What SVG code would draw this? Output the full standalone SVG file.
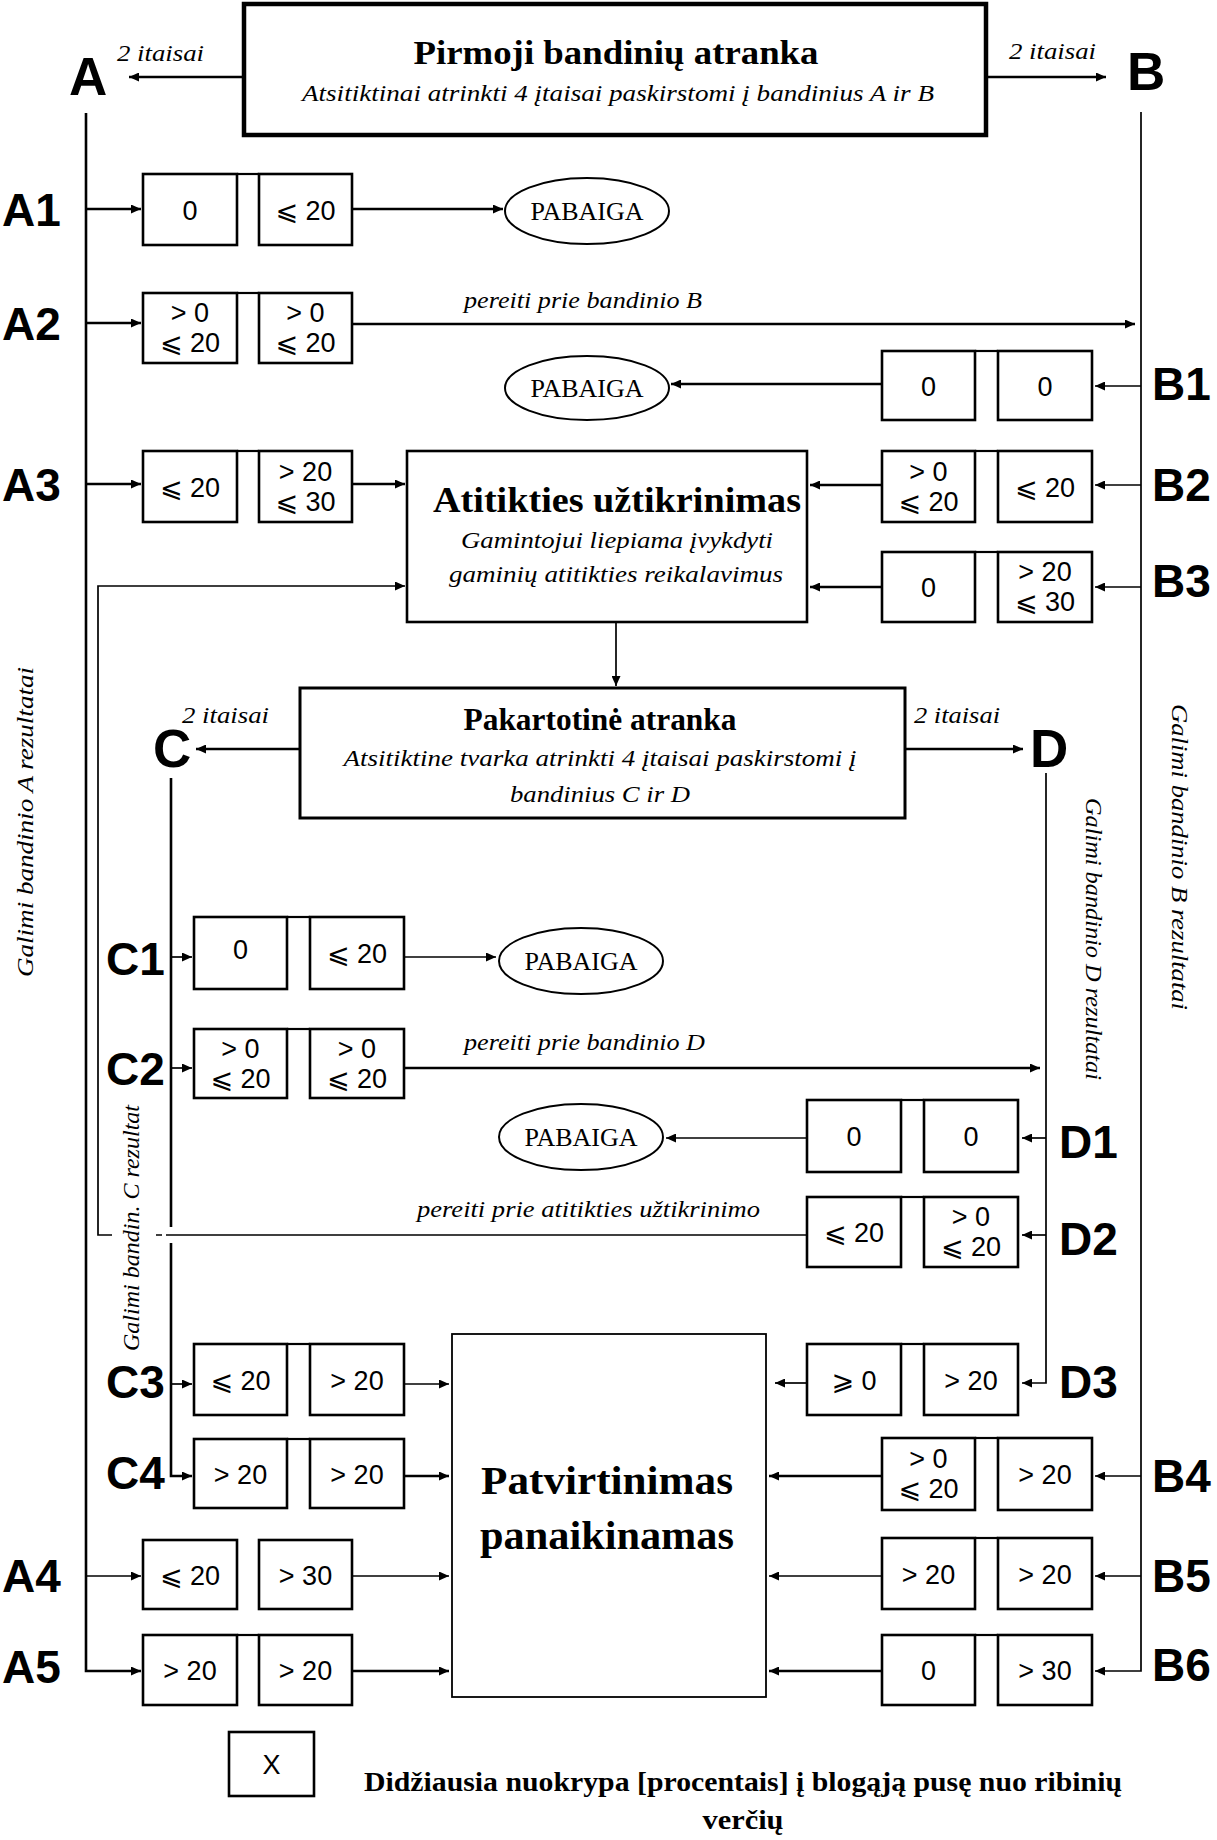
<svg xmlns="http://www.w3.org/2000/svg" width="1217" height="1840" viewBox="0 0 1217 1840">
<style>
.ln{stroke:#000;stroke-width:2.6;fill:none}
.tn{stroke:#000;stroke-width:1.7;fill:none}
.bx rect{fill:#fff;stroke:#000;stroke-width:2.6}
.bx path{stroke:#000;stroke-width:2.2;fill:none}
.bx text{font-family:"Liberation Sans","DejaVu Sans",Arial,sans-serif;font-size:27px;text-anchor:middle}
.lbl{font-family:"Liberation Sans",Arial,sans-serif;font-weight:bold;font-size:46px}
.big{font-family:"Liberation Sans",Arial,sans-serif;font-weight:bold;font-size:53px}
.it{font-family:"Liberation Serif","Times New Roman",serif;font-style:italic;font-size:24px}
.ttl{font-family:"Liberation Serif","Times New Roman",serif;font-weight:bold;text-anchor:middle}
.ctr{text-anchor:middle}
.el ellipse{fill:#fff;stroke:#000;stroke-width:2}
.el text{font-family:"Liberation Serif","Times New Roman",serif;font-size:26px;text-anchor:middle}
</style>
<defs>
<marker id="ah" markerUnits="userSpaceOnUse" markerWidth="10" markerHeight="9" refX="10" refY="4.5" orient="auto"><path d="M0,0L10,4.5L0,9z" fill="#000"/></marker>
</defs>
<rect width="1217" height="1840" fill="#fff"/>

<!-- main process boxes -->
<g id="pirmoji">
<rect x="244" y="4" width="742" height="131" fill="#fff" stroke="#000" stroke-width="4.5"/>
<text class="ttl" x="616" y="64" font-size="33" textLength="405" lengthAdjust="spacingAndGlyphs">Pirmoji bandinių atranka</text>
<text class="it ctr" x="618" y="101" textLength="632" lengthAdjust="spacingAndGlyphs">Atsitiktinai atrinkti 4 įtaisai paskirstomi į bandinius A ir B</text>
</g>
<g id="atitiktis">
<rect x="407" y="451" width="400" height="171" fill="#fff" stroke="#000" stroke-width="2.6"/>
<text class="ttl" x="617" y="512" font-size="36" textLength="368" lengthAdjust="spacingAndGlyphs">Atitikties užtikrinimas</text>
<text class="it ctr" x="617" y="548" font-size="25" textLength="312" lengthAdjust="spacingAndGlyphs">Gamintojui liepiama įvykdyti</text>
<text class="it ctr" x="616" y="582" font-size="25" textLength="334" lengthAdjust="spacingAndGlyphs">gaminių atitikties reikalavimus</text>
</g>
<g id="pakartotine">
<rect x="300" y="688" width="605" height="130" fill="#fff" stroke="#000" stroke-width="3"/>
<text class="ttl" x="600" y="730" font-size="31" textLength="273" lengthAdjust="spacingAndGlyphs">Pakartotinė atranka</text>
<text class="it ctr" x="600" y="766" textLength="513" lengthAdjust="spacingAndGlyphs">Atsitiktine tvarka atrinkti 4 įtaisai paskirstomi į</text>
<text class="it ctr" x="600" y="802" textLength="180" lengthAdjust="spacingAndGlyphs">bandinius C ir D</text>
</g>
<g id="patvirtinimas">
<rect x="452" y="1334" width="314" height="363" fill="#fff" stroke="#000" stroke-width="1.8"/>
<text class="ttl" x="607" y="1494" font-size="40" textLength="252" lengthAdjust="spacingAndGlyphs">Patvirtinimas</text>
<text class="ttl" x="607" y="1549" font-size="40" textLength="254" lengthAdjust="spacingAndGlyphs">panaikinamas</text>
</g>

<!-- end ellipses -->
<g id="pabaiga1" class="el"><ellipse cx="587" cy="211" rx="82" ry="33"/><text x="587" y="220">PABAIGA</text></g>
<g id="pabaiga2" class="el"><ellipse cx="587" cy="388" rx="82" ry="32"/><text x="587" y="397">PABAIGA</text></g>
<g id="pabaiga3" class="el"><ellipse cx="581" cy="961" rx="82" ry="33"/><text x="581" y="970">PABAIGA</text></g>
<g id="pabaiga4" class="el"><ellipse cx="581" cy="1137" rx="82" ry="33"/><text x="581" y="1146">PABAIGA</text></g>

<!-- connectors -->
<g id="connectors">
<path class="ln" d="M244,77H129" marker-end="url(#ah)"/>
<path class="ln" d="M986,77H1106" marker-end="url(#ah)"/>
<path class="ln" d="M86,113V1671H141" marker-end="url(#ah)"/>
<path class="ln" d="M86,209H141" marker-end="url(#ah)"/>
<path class="ln" d="M86,323H141" marker-end="url(#ah)"/>
<path class="ln" d="M86,484H141" marker-end="url(#ah)"/>
<path class="tn" d="M86,1576H141" marker-end="url(#ah)"/>
<path class="tn" d="M1141,112V1671H1095" marker-end="url(#ah)"/>
<path class="tn" d="M1141,386H1095" marker-end="url(#ah)"/>
<path class="tn" d="M1141,485H1095" marker-end="url(#ah)"/>
<path class="tn" d="M1141,587H1095" marker-end="url(#ah)"/>
<path class="tn" d="M1141,1476H1095" marker-end="url(#ah)"/>
<path class="tn" d="M1141,1576H1095" marker-end="url(#ah)"/>
<path class="ln" d="M352,209H503" marker-end="url(#ah)"/>
<path class="ln" d="M352,324H1135" marker-end="url(#ah)"/>
<path class="ln" d="M352,484H405" marker-end="url(#ah)"/>
<path class="tn" d="M352,1576H449" marker-end="url(#ah)"/>
<path class="ln" d="M352,1671H449" marker-end="url(#ah)"/>
<path class="ln" d="M882,384H671" marker-end="url(#ah)"/>
<path class="ln" d="M882,485H810" marker-end="url(#ah)"/>
<path class="ln" d="M882,587H810" marker-end="url(#ah)"/>
<path class="ln" d="M882,1476H769" marker-end="url(#ah)"/>
<path class="tn" d="M882,1576H769" marker-end="url(#ah)"/>
<path class="ln" d="M882,1671H769" marker-end="url(#ah)"/>
<path class="tn" d="M616,622V686" marker-end="url(#ah)"/>
<path class="ln" d="M300,749H196" marker-end="url(#ah)"/>
<path class="ln" d="M906,749H1023" marker-end="url(#ah)"/>
<path class="ln" d="M171,778V1227M171,1243V1476H192" marker-end="url(#ah)"/>
<path class="tn" d="M171,957H192" marker-end="url(#ah)"/>
<path class="tn" d="M171,1068H192" marker-end="url(#ah)"/>
<path class="tn" d="M171,1384H192" marker-end="url(#ah)"/>
<path class="tn" d="M404,957H496" marker-end="url(#ah)"/>
<path class="ln" d="M404,1068H1040" marker-end="url(#ah)"/>
<path class="tn" d="M404,1384H449" marker-end="url(#ah)"/>
<path class="ln" d="M404,1476H449" marker-end="url(#ah)"/>
<path class="tn" d="M1046,773V1383H1022" marker-end="url(#ah)"/>
<path class="tn" d="M1046,1138H1022" marker-end="url(#ah)"/>
<path class="tn" d="M1046,1235H1022" marker-end="url(#ah)"/>
<path class="tn" d="M807,1138H666" marker-end="url(#ah)"/>
<path class="tn" d="M807,1383H775" marker-end="url(#ah)"/>
<path class="tn" d="M807,1235H166M162,1235H156M112,1235H98V586H405" marker-end="url(#ah)"/>
</g>

<!-- side letters and row labels -->
<g id="letters">
<text class="big" x="69" y="95">A</text>
<text class="big" x="1127" y="90">B</text>
<text class="big" x="153" y="767">C</text>
<text class="big" x="1030" y="767">D</text>
<text class="it" x="117" y="61" textLength="87" lengthAdjust="spacingAndGlyphs">2 itaisai</text>
<text class="it" x="1009" y="59" textLength="87" lengthAdjust="spacingAndGlyphs">2 itaisai</text>
<text class="it" x="182" y="723" textLength="87" lengthAdjust="spacingAndGlyphs">2 itaisai</text>
<text class="it" x="914" y="723" textLength="86" lengthAdjust="spacingAndGlyphs">2 itaisai</text>
<text class="it" x="464" y="308" textLength="238" lengthAdjust="spacingAndGlyphs">pereiti prie bandinio B</text>
<text class="it" x="464" y="1050" textLength="241" lengthAdjust="spacingAndGlyphs">pereiti prie bandinio D</text>
<text class="it" x="417" y="1217" textLength="343" lengthAdjust="spacingAndGlyphs">pereiti prie atitikties užtikrinimo</text>
<text class="it ctr" transform="translate(33,822) rotate(-90)" font-size="25" textLength="310" lengthAdjust="spacingAndGlyphs">Galimi bandinio A rezultatai</text>
<text class="it ctr" transform="translate(139,1228) rotate(-90)" textLength="246" lengthAdjust="spacingAndGlyphs">Galimi bandin. C rezultat</text>
<text class="it ctr" transform="translate(1086,939) rotate(90)" textLength="282" lengthAdjust="spacingAndGlyphs">Galimi bandinio D rezultatai</text>
<text class="it ctr" transform="translate(1172,857) rotate(90)" font-size="25" textLength="306" lengthAdjust="spacingAndGlyphs">Galimi bandinio B rezultatai</text>
<text class="lbl" x="2" y="226">A1</text>
<text class="lbl" x="2" y="340">A2</text>
<text class="lbl" x="2" y="501">A3</text>
<text class="lbl" x="2" y="1592">A4</text>
<text class="lbl" x="2" y="1683">A5</text>
<text class="lbl" x="1152" y="400">B1</text>
<text class="lbl" x="1152" y="501">B2</text>
<text class="lbl" x="1152" y="597">B3</text>
<text class="lbl" x="1152" y="1492">B4</text>
<text class="lbl" x="1152" y="1592">B5</text>
<text class="lbl" x="1152" y="1681">B6</text>
<text class="lbl" x="106" y="975">C1</text>
<text class="lbl" x="106" y="1085">C2</text>
<text class="lbl" x="106" y="1398">C3</text>
<text class="lbl" x="106" y="1489">C4</text>
<text class="lbl" x="1059" y="1158">D1</text>
<text class="lbl" x="1059" y="1255">D2</text>
<text class="lbl" x="1059" y="1398">D3</text>
</g>

<!-- result box pairs -->
<g id="A1" class="bx"><rect x="143" y="174" width="94" height="71"/><rect x="259" y="174" width="93" height="71"/><path d="M237,174H259"/><text x="190" y="219.5">0</text><text x="305.5" y="219.5">⩽ 20</text></g>
<g id="A2" class="bx"><rect x="143" y="293" width="94" height="70"/><rect x="259" y="293" width="93" height="70"/><path d="M237,293H259"/><text x="190" y="322">&gt; 0</text><text x="190" y="352">⩽ 20</text><text x="305.5" y="322">&gt; 0</text><text x="305.5" y="352">⩽ 20</text></g>
<g id="A3" class="bx"><rect x="143" y="451" width="94" height="71"/><rect x="259" y="451" width="93" height="71"/><path d="M237,451H259"/><text x="190" y="496.5">⩽ 20</text><text x="305.5" y="480.5">&gt; 20</text><text x="305.5" y="510.5">⩽ 30</text></g>
<g id="A4" class="bx"><rect x="143" y="1540" width="94" height="69"/><rect x="259" y="1540" width="93" height="69"/><text x="190" y="1584.5">⩽ 20</text><text x="305.5" y="1584.5">&gt; 30</text></g>
<g id="A5" class="bx"><rect x="143" y="1635" width="94" height="70"/><rect x="259" y="1635" width="93" height="70"/><path d="M237,1635H259"/><text x="190" y="1680">&gt; 20</text><text x="305.5" y="1680">&gt; 20</text></g>

<g id="B1" class="bx"><rect x="882" y="351" width="93" height="69"/><rect x="998" y="351" width="94" height="69"/><path d="M975,351H998"/><text x="928.5" y="395.5">0</text><text x="1045" y="395.5">0</text></g>
<g id="B2" class="bx"><rect x="882" y="451" width="93" height="71"/><rect x="998" y="451" width="94" height="71"/><path d="M975,451H998"/><text x="928.5" y="480.5">&gt; 0</text><text x="928.5" y="510.5">⩽ 20</text><text x="1045" y="496.5">⩽ 20</text></g>
<g id="B3" class="bx"><rect x="882" y="552" width="93" height="70"/><rect x="998" y="552" width="94" height="70"/><path d="M975,552H998"/><text x="928.5" y="597">0</text><text x="1045" y="581">&gt; 20</text><text x="1045" y="611">⩽ 30</text></g>
<g id="B4" class="bx"><rect x="882" y="1438" width="93" height="72"/><rect x="998" y="1438" width="94" height="72"/><path d="M975,1438H998"/><text x="928.5" y="1468">&gt; 0</text><text x="928.5" y="1498">⩽ 20</text><text x="1045" y="1484">&gt; 20</text></g>
<g id="B5" class="bx"><rect x="882" y="1538" width="93" height="71"/><rect x="998" y="1538" width="94" height="71"/><path d="M975,1538H998"/><text x="928.5" y="1583.5">&gt; 20</text><text x="1045" y="1583.5">&gt; 20</text></g>
<g id="B6" class="bx"><rect x="882" y="1635" width="93" height="70"/><rect x="998" y="1635" width="94" height="70"/><path d="M975,1635H998"/><text x="928.5" y="1680">0</text><text x="1045" y="1680">&gt; 30</text></g>

<g id="C1" class="bx"><rect x="194" y="917" width="93" height="72"/><rect x="310" y="917" width="94" height="72"/><path d="M287,917H310"/><text x="240.5" y="959">0</text><text x="357" y="963">⩽ 20</text></g>
<g id="C2" class="bx"><rect x="194" y="1029" width="93" height="69"/><rect x="310" y="1029" width="94" height="69"/><path d="M287,1029H310"/><text x="240.5" y="1057.5">&gt; 0</text><text x="240.5" y="1087.5">⩽ 20</text><text x="357" y="1057.5">&gt; 0</text><text x="357" y="1087.5">⩽ 20</text></g>
<g id="C3" class="bx"><rect x="194" y="1344" width="93" height="71"/><rect x="310" y="1344" width="94" height="71"/><path d="M287,1344H310"/><text x="240.5" y="1389.5">⩽ 20</text><text x="357" y="1389.5">&gt; 20</text></g>
<g id="C4" class="bx"><rect x="194" y="1439" width="93" height="69"/><rect x="310" y="1439" width="94" height="69"/><path d="M287,1439H310"/><text x="240.5" y="1483.5">&gt; 20</text><text x="357" y="1483.5">&gt; 20</text></g>

<g id="D1" class="bx"><rect x="807" y="1100" width="94" height="72"/><rect x="924" y="1100" width="94" height="72"/><path d="M901,1100H924"/><text x="854" y="1146">0</text><text x="971" y="1146">0</text></g>
<g id="D2" class="bx"><rect x="807" y="1197" width="94" height="70"/><rect x="924" y="1197" width="94" height="70"/><path d="M901,1197H924"/><text x="854" y="1242">⩽ 20</text><text x="971" y="1226">&gt; 0</text><text x="971" y="1256">⩽ 20</text></g>
<g id="D3" class="bx"><rect x="807" y="1344" width="94" height="71"/><rect x="924" y="1344" width="94" height="71"/><path d="M901,1344H924"/><text x="854" y="1389.5">⩾ 0</text><text x="971" y="1389.5">&gt; 20</text></g>

<!-- legend -->
<g id="legend">
<g class="bx"><rect x="229" y="1732" width="85" height="64"/><text x="271.5" y="1774">X</text></g>
<text class="ttl" x="743" y="1791" font-size="27" textLength="758" lengthAdjust="spacingAndGlyphs">Didžiausia nuokrypa [procentais] į blogąją pusę nuo ribinių</text>
<text class="ttl" x="743" y="1829" font-size="27" textLength="81" lengthAdjust="spacingAndGlyphs">verčių</text>
</g>
</svg>
